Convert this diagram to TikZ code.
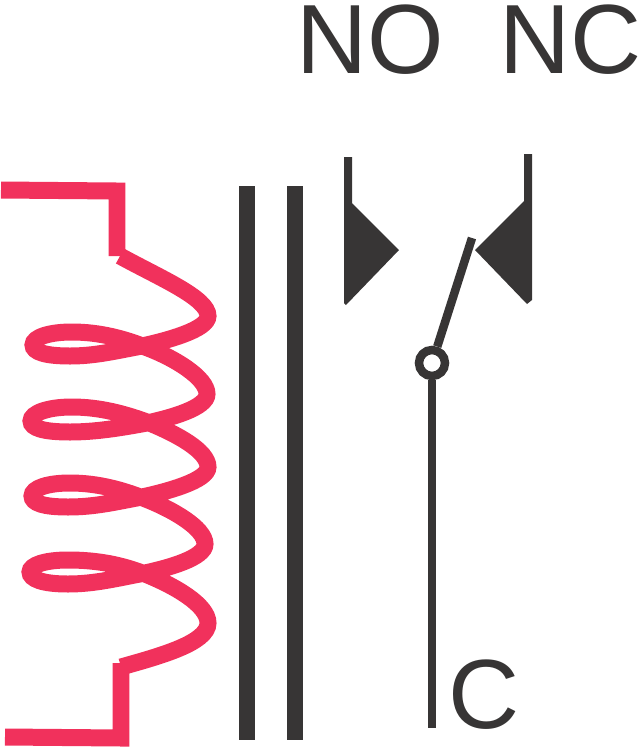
\documentclass[tikz,border=0pt]{standalone}
\usepackage{fontspec}
\setmainfont{Liberation Sans}
\definecolor{coilred}{HTML}{F1315C}
\definecolor{darkgrey}{HTML}{373535}
\tikzset{coil/.style={draw=coilred, line width=0.34cm},
label/.style={anchor=base, text=darkgrey, inner sep=0pt, font=\fontsize{56}{56}\selectfont},
core/.style={draw=darkgrey, line width=0.32cm},
contact/.style={draw=darkgrey, line width=0.17cm}}

\begin{document}
\begin{tikzpicture}[x=0.02cm,y=-0.02cm]
\useasboundingbox (0,0) rectangle (640,748);
% coil
\draw[coil, miter limit=10] (1,190) -- (117,191) -- (117,256);
\draw[coil, miter limit=10] (5,737) -- (121,738) -- (121,663);
\draw[coil] (120,256) .. controls (160,278) and (208,298) .. (208,316)
.. controls (208,330) and (165,341) .. (142,346) .. controls (115,351) and (95,356) .. (70,356)
.. controls (45,356) and (33,352) .. (33,345) .. controls (33,337) and (50,332) .. (72,332)
.. controls (100,332) and (125,339) .. (145,347) .. controls (175,358) and (207,378) .. (207,394)
.. controls (207,408) and (170,418) .. (147,423) .. controls (120,428) and (95,432) .. (70,432)
.. controls (43,432) and (31,428) .. (31,421) .. controls (31,413) and (48,407) .. (72,407)
.. controls (100,407) and (125,414) .. (147,422) .. controls (177,434) and (208,451) .. (208,467)
.. controls (208,481) and (165,492) .. (142,497) .. controls (115,502) and (95,507) .. (68,507)
.. controls (43,507) and (32,503) .. (32,496) .. controls (32,488) and (48,483) .. (70,483)
.. controls (98,483) and (122,490) .. (143,498) .. controls (172,509) and (205,528) .. (205,544)
.. controls (205,558) and (168,568) .. (145,573) .. controls (118,578) and (95,584) .. (68,584)
.. controls (42,584) and (30,579) .. (30,572) .. controls (30,565) and (45,560) .. (68,560)
.. controls (98,560) and (122,565) .. (145,574) .. controls (175,586) and (208,605) .. (208,623)
.. controls (208,643) and (160,656) .. (121,667);
% core
\draw[core] (247,186) -- (247,740);
\draw[core] (295,186) -- (295,740);
% contacts
\fill[darkgrey] (344,157) -- (352,157) -- (352,203) -- (399,250) -- (346,305) -- (344,303) -- cycle;
\fill[darkgrey] (532,154) -- (524,154) -- (524,201) -- (475,250) -- (527,304) -- (532,300) -- cycle;
\node[circle, draw=darkgrey, line width=0.17cm, minimum size=0.52cm, inner sep=0pt] (pivot) at (432,363) {};
\coordinate (tip) at (472,238);
\coordinate (foot) at (432,728);
\draw[contact] (pivot) -- (tip);
\draw[contact] (pivot) -- (foot);
% labels
\node[label] (no) at (370,73) {NO};
\node[label] (nc) at (571,73) {NC};
\node[label] (c) at (484,728) {C};
\end{tikzpicture}
\end{document}
